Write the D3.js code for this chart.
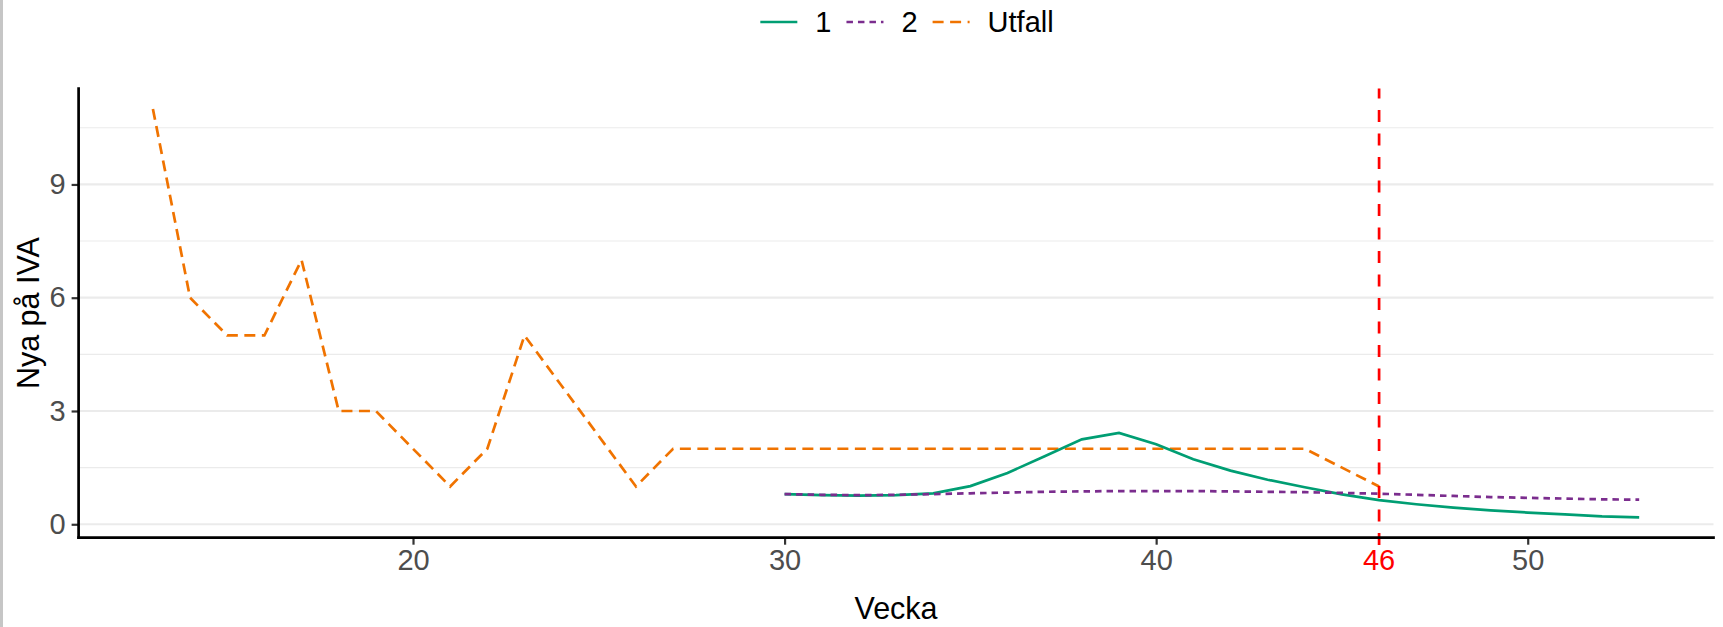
<!DOCTYPE html>
<html>
<head>
<meta charset="utf-8">
<script src="https://cdn.jsdelivr.net/npm/d3@7"></script>
<style>
  html, body { margin: 0; padding: 0; background: #fff; }
  svg { display: block; }
  text { font-family: "Liberation Sans", Arial, sans-serif; }
</style>
</head>
<body>
<svg id="chart" width="1723" height="627"></svg>
<script>
// ---- data ----
const utfallWeeks = [13, 14, 15, 16, 17, 18, 19, 20, 21, 22, 23, 26, 27, 28, 29, 30, 31, 32, 33, 34, 35, 36, 37, 38, 39, 40, 41, 42, 43, 44, 46];
const utfallValues = [11, 6, 5, 5, 7, 3, 3, 2, 1, 2, 5, 1, 2, 2, 2, 2, 2, 2, 2, 2, 2, 2, 2, 2, 2, 2, 2, 2, 2, 2, 1];

const prognosWeeks = [30, 31, 32, 33, 34, 35, 36, 37, 38, 39, 40, 41, 42, 43, 44, 45, 46, 47, 48, 49, 50, 51, 52, 53];
const series1Values = [0.80, 0.77, 0.76, 0.77, 0.82, 1.01, 1.36, 1.80, 2.25, 2.42, 2.12, 1.72, 1.42, 1.18, 0.98, 0.79, 0.64, 0.53, 0.44, 0.37, 0.31, 0.26, 0.21, 0.185];
const series2Values = [0.80, 0.78, 0.77, 0.78, 0.80, 0.82, 0.84, 0.86, 0.87, 0.88, 0.88, 0.88, 0.87, 0.86, 0.85, 0.83, 0.81, 0.78, 0.75, 0.72, 0.70, 0.68, 0.66, 0.65];

const xTicks = [20, 30, 40, 50];
const yMajorTicks = [0, 3, 6, 9];
const yMinorTicks = [1.5, 4.5, 7.5, 10.5];
const currentWeek = 46;

const seriesNames = ["1", "2", "Utfall"];
const seriesColors = ["#009E73", "#7B2D8E", "#F07300"];
const seriesDash = [null, "6.5,5", "11,6.5"];

const xLabel = "Vecka";
const yLabel = "Nya på IVA";

// ---- layout ----
const svg = d3.select("#chart");
const W = 1723, H = 627;
const panel = { left: 78.6, right: 1713.5, top: 88.5, bottom: 537.7 };
const tickFont = 29, titleFont = 30.5, legendFont = 29;

// data extents with 5% expansion (ggplot style)
const allX = utfallWeeks.concat(prognosWeeks);
const allY = utfallValues.concat(series1Values, series2Values);
const xMin = d3.min(allX), xMax = d3.max(allX);
const yMin = d3.min(allY), yMax = d3.max(allY);
const xe = (xMax - xMin) * 0.05, ye = (yMax - yMin) * 0.05;

const x = d3.scaleLinear().domain([xMin - xe, xMax + xe]).range([panel.left, panel.right]);
const y = d3.scaleLinear().domain([yMin - ye, yMax + ye]).range([panel.bottom, panel.top]);

// left grey border
svg.append("rect").attr("x", 0).attr("y", 0).attr("width", 3).attr("height", H).attr("fill", "#c6c6c6");

// gridlines
const grid = svg.append("g");
grid.selectAll("line.minor").data(yMinorTicks).join("line")
  .attr("x1", panel.left).attr("x2", panel.right)
  .attr("y1", d => y(d)).attr("y2", d => y(d))
  .attr("stroke", "#EBEBEB").attr("stroke-width", 1.1);
grid.selectAll("line.major").data(yMajorTicks).join("line")
  .attr("x1", panel.left).attr("x2", panel.right)
  .attr("y1", d => y(d)).attr("y2", d => y(d))
  .attr("stroke", "#EBEBEB").attr("stroke-width", 2.2);

// lines
const line = d3.line().x(d => x(d[0])).y(d => y(d[1]));
const seriesData = [
  d3.zip(prognosWeeks, series1Values),
  d3.zip(prognosWeeks, series2Values),
  d3.zip(utfallWeeks, utfallValues)
];
[2, 0, 1].forEach(i => {
  svg.append("path")
    .attr("d", line(seriesData[i]))
    .attr("fill", "none")
    .attr("stroke", seriesColors[i])
    .attr("stroke-width", 2.7)
    .attr("stroke-dasharray", seriesDash[i]);
});

// red vertical line at current week (drawn bottom to top)
svg.append("line")
  .attr("x1", x(currentWeek)).attr("x2", x(currentWeek))
  .attr("y1", 545).attr("y2", panel.top)
  .attr("stroke", "#FF0000").attr("stroke-width", 2.7)
  .attr("stroke-dasharray", "12,11.5");

// axes
const xAxis = d3.axisBottom(x).tickValues(xTicks).tickSize(7).tickPadding(5).tickSizeOuter(0);
const gx = svg.append("g").attr("transform", `translate(0,${panel.bottom})`).call(xAxis);
gx.select(".domain").remove();
gx.selectAll(".tick line").attr("stroke", "#333333").attr("stroke-width", 2.2);
gx.selectAll(".tick text").attr("fill", "#4D4D4D").attr("font-size", tickFont).attr("font-family", "Liberation Sans, Arial, sans-serif");

const yAxis = d3.axisLeft(y).tickValues(yMajorTicks).tickSize(7).tickPadding(6).tickSizeOuter(0);
const gy = svg.append("g").attr("transform", `translate(${panel.left},0)`).call(yAxis);
gy.select(".domain").remove();
gy.selectAll(".tick line").attr("stroke", "#333333").attr("stroke-width", 2.2);
gy.selectAll(".tick text").attr("fill", "#4D4D4D").attr("font-size", tickFont).attr("font-family", "Liberation Sans, Arial, sans-serif");

// axis lines
svg.append("line").attr("x1", panel.left).attr("x2", panel.right)
  .attr("y1", panel.bottom).attr("y2", panel.bottom)
  .attr("stroke", "#000").attr("stroke-width", 2.7).attr("stroke-linecap", "square");
svg.append("line").attr("x1", panel.left).attr("x2", panel.left)
  .attr("y1", panel.top).attr("y2", panel.bottom)
  .attr("stroke", "#000").attr("stroke-width", 2.7).attr("stroke-linecap", "square");

// red current-week label
svg.append("text")
  .attr("x", x(currentWeek)).attr("y", panel.bottom + 7 + 5)
  .attr("dy", "0.71em")
  .attr("text-anchor", "middle")
  .attr("fill", "#FF0000").attr("font-size", tickFont)
  .text(currentWeek);

// axis titles
svg.append("text")
  .attr("x", (panel.left + panel.right) / 2).attr("y", 619)
  .attr("text-anchor", "middle").attr("font-size", titleFont).attr("fill", "#000")
  .text(xLabel);
svg.append("text")
  .attr("transform", `translate(39,${(panel.top + panel.bottom) / 2}) rotate(-90)`)
  .attr("text-anchor", "middle").attr("font-size", titleFont).attr("fill", "#000")
  .text(yLabel);

// legend
const legend = svg.append("g");
const keyLen = 37, keyGap = 18, itemGap = 15;
let cx = 0;
seriesNames.forEach((name, i) => {
  const g = legend.append("g");
  g.append("line").attr("x1", 0).attr("x2", keyLen).attr("y1", 0).attr("y2", 0)
    .attr("stroke", seriesColors[i]).attr("stroke-width", 2.7)
    .attr("stroke-dasharray", seriesDash[i]);
  const t = g.append("text").attr("x", keyLen + keyGap).attr("y", 0).attr("dy", "0.36em")
    .attr("font-size", legendFont).attr("fill", "#000").text(name);
  const w = keyLen + keyGap + t.node().getComputedTextLength();
  g.attr("transform", `translate(${cx},0)`);
  cx += w + itemGap;
});
const totalW = cx - itemGap;
legend.attr("transform", `translate(${907 - totalW / 2},22)`);
</script>
</body>
</html>
